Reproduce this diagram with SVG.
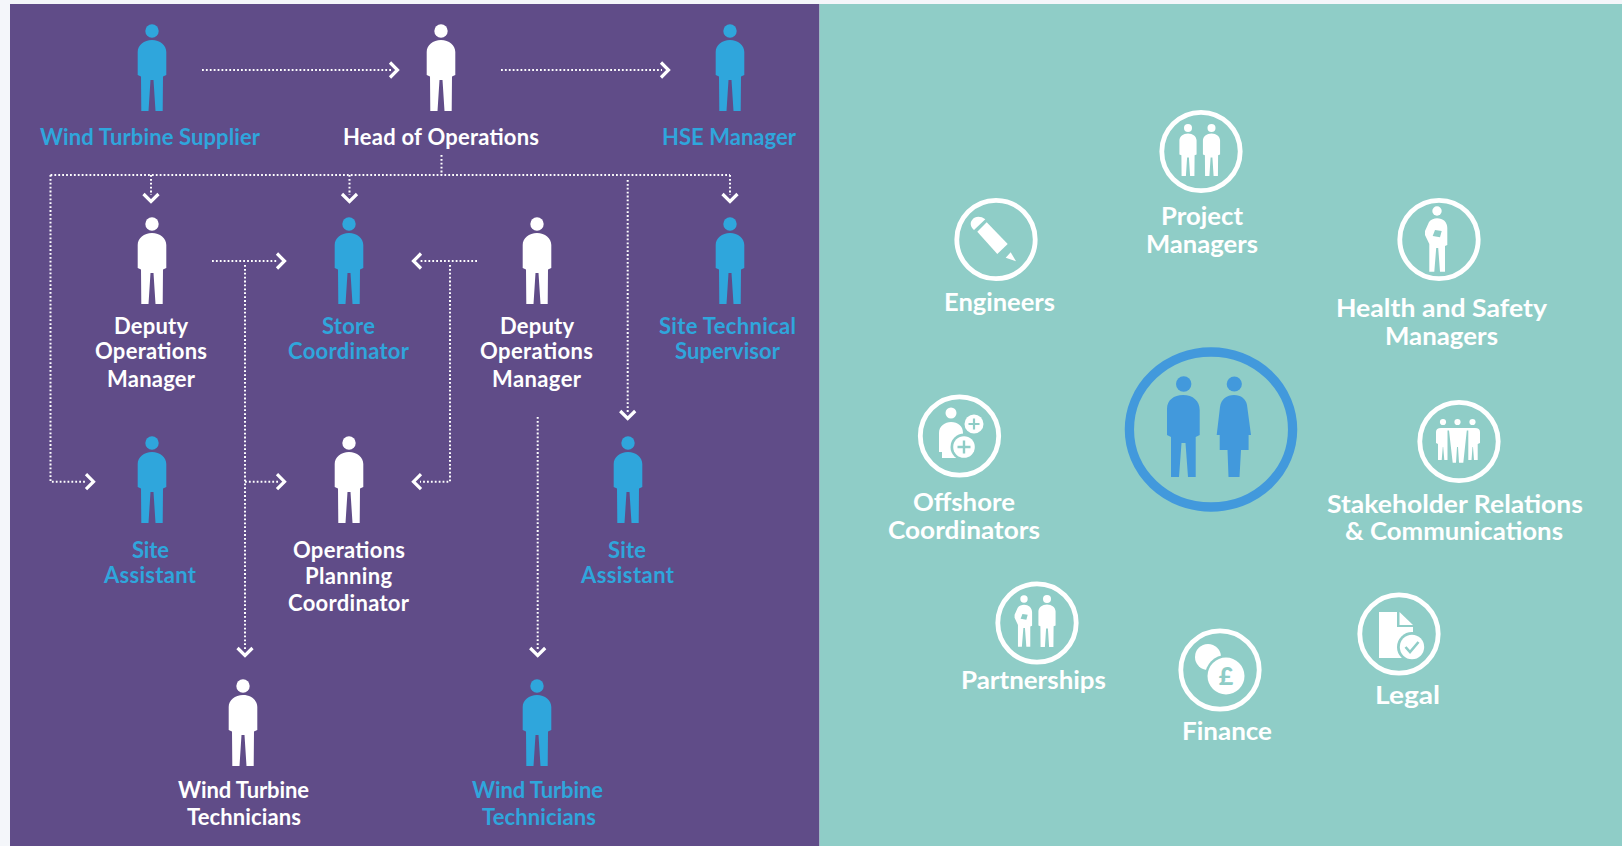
<svg xmlns="http://www.w3.org/2000/svg" width="1622" height="846" viewBox="0 0 1622 846">
<style>
.t{font-family:"Lato","Open Sans","Liberation Sans",sans-serif;font-weight:700;font-size:22px}
.r{font-family:"Lato","Open Sans","Liberation Sans",sans-serif;font-weight:700;font-size:24px;fill:#fff}
.w{fill:#fff}.b{fill:#2fa6dc}
.ring{fill:none;stroke:#fff;stroke-width:4.8}
.tl{fill:#8fcdc7}
#links path{fill:none;stroke:#fff;stroke-width:2;stroke-dasharray:1.8 2.1;marker-end:url(#chev)}
#links path.n{marker-end:none}
</style>
<defs>
<marker id="chev" markerUnits="userSpaceOnUse" markerWidth="16" markerHeight="22" refX="4" refY="10" orient="auto" viewBox="0 0 16 22">
<path d="M3,2.5 L10.5,10 L3,17.5" fill="none" stroke="#fff" stroke-width="3.2"/>
</marker>
<g id="person"><circle cx="0" cy="0" r="6.7"/><path d="M-14.3,44 V21 C-14.3,14 -8,9 0,9 C8,9 14.3,14 14.3,21 V44 L11,45.5 L10.7,80 H3.5 L1.5,49 H-1.5 L-3.5,80 H-10.7 L-11,45.5 Z"/></g>
<g id="clipperson"><circle cx="0" cy="0" r="4.7" fill="#fff"/><path fill="#fff" d="M0,7.3 C6,7.3 10.3,11 10.3,17 V34 L8,35 L8,60.7 H3 L1.2,37 H-0.8 L-2.7,60.7 H-7.7 L-7.7,33 L-12,24 V20 L-8,11 C-6,8.5 -3,7.3 0,7.3 Z"/><path fill="#8fcdc7" d="M-2,19 L4.7,20 L3,26.3 L-4.3,25 Z"/></g>
</defs>
<rect width="1622" height="846" fill="#f4f6fa"/>
<rect x="10" y="4" width="809.500" height="842" fill="#604c88"/>
<rect x="819.500" y="4" width="802.500" height="842" fill="#8fcdc7"/>

<g id="links">
<path d="M202,70 H391"/>
<path d="M501,70 H662"/>
<path class="n" d="M441.5,155 V175"/>
<path d="M50.5,175 V481.7 H87"/>
<path class="n" d="M50.5,175 H730"/>
<path d="M151,175 V195"/>
<path d="M349.500,175 V195"/>
<path d="M730,175 V195"/>
<path d="M627.7,180 V412"/>
<path d="M212,261 H278"/>
<path d="M477,261 H420"/>
<path d="M245,265 V649"/>
<path d="M245,481.7 H278"/>
<path d="M450,265 V481.7 H420"/>
<path d="M537.7,417 V649"/>
</g>

<g id="n-wind-supplier"><use href="#person" x="152" y="31" class="b"/><text class="t b" x="40" y="145" textLength="220">Wind Turbine Supplier</text></g>
<g id="n-head-ops"><use href="#person" x="441" y="31" class="w"/><text class="t w" x="343" y="145" textLength="196">Head of Operations</text></g>
<g id="n-hse"><use href="#person" x="730" y="31" class="b"/><text class="t b" x="662" y="145" textLength="134">HSE Manager</text></g>
<g id="n-deputy-1"><use href="#person" x="152" y="224" class="w"/><text class="t w" x="114" y="334" textLength="74">Deputy</text><text class="t w" x="95" y="359" textLength="112">Operations</text><text class="t w" x="107" y="387" textLength="88">Manager</text></g>
<g id="n-store"><use href="#person" x="349" y="224" class="b"/><text class="t b" x="322" y="334" textLength="53">Store</text><text class="t b" x="288" y="359" textLength="121">Coordinator</text></g>
<g id="n-deputy-2"><use href="#person" x="537" y="224" class="w"/><text class="t w" x="500" y="334" textLength="74">Deputy</text><text class="t w" x="480" y="359" textLength="113">Operations</text><text class="t w" x="492" y="387" textLength="89">Manager</text></g>
<g id="n-site-tech"><use href="#person" x="730" y="224" class="b"/><text class="t b" x="659" y="334" textLength="137">Site Technical</text><text class="t b" x="675" y="359" textLength="105">Supervisor</text></g>
<g id="n-site-1"><use href="#person" x="152" y="443" class="b"/><text class="t b" x="132" y="558" textLength="37">Site</text><text class="t b" x="104" y="583" textLength="92">Assistant</text></g>
<g id="n-planning"><use href="#person" x="349" y="443" class="w"/><text class="t w" x="293" y="558" textLength="112">Operations</text><text class="t w" x="305" y="584" textLength="87">Planning</text><text class="t w" x="288" y="611" textLength="121">Coordinator</text></g>
<g id="n-site-2"><use href="#person" x="628" y="443" class="b"/><text class="t b" x="608" y="558" textLength="38">Site</text><text class="t b" x="581" y="583" textLength="93">Assistant</text></g>
<g id="n-tech-1"><use href="#person" x="243" y="686" class="w"/><text class="t w" x="178" y="798" textLength="131">Wind Turbine</text><text class="t w" x="187" y="825" textLength="114">Technicians</text></g>
<g id="n-tech-2"><use href="#person" x="537" y="686" class="b"/><text class="t b" x="472" y="798" textLength="131">Wind Turbine</text><text class="t b" x="482" y="825" textLength="114">Technicians</text></g>

<g id="n-centre" fill="#4299dc">
<ellipse cx="1211" cy="429.500" rx="81.6" ry="77.5" fill="none" stroke="#4299dc" stroke-width="9.3"/>
<circle cx="1183.7" cy="384" r="7.7"/><circle cx="1234.3" cy="384" r="7.6"/>
<path d="M1167,435 V409 C1167,400 1174,395 1183,395 C1193,395 1199.7,401 1199.7,410 V435 L1195.7,437 V477 H1188 L1185.5,443 H1181.5 L1179,477 H1171 V437 Z"/>
<path d="M1216.7,435 L1220,407 C1221,399 1227,395 1234,395 C1241,395 1246,399 1247,405 L1251,435 H1248.6 V450 H1241 L1239.5,477 H1228.5 L1227.5,450 H1219.7 V435 Z"/>
</g>
<g id="n-project"><circle class="ring" cx="1201" cy="151.500" r="39.2"/><use href="#person" transform="translate(1188,128) scale(.6)" class="w"/><use href="#person" transform="translate(1211.500,128) scale(.6)" class="w"/><text class="r" x="1161" y="225" textLength="82" lengthAdjust="spacingAndGlyphs">Project</text><text class="r" x="1146" y="253" textLength="112" lengthAdjust="spacingAndGlyphs">Managers</text></g>
<g id="n-engineers"><circle class="ring" cx="996" cy="239.500" r="39.2"/><path class="w" d="M974,230 L985.3,219.3 C981,216 975,216 972.5,219.5 C969.5,222.5 970.5,227 974,230 Z"/><path class="w" d="M977.3,231.7 L986.7,222.3 L1007.7,244 L997.3,254 Z"/><path class="w" d="M1005.7,257.7 L1010.7,252.3 L1016,261.3 Z"/><text class="r" x="944" y="311" textLength="111" lengthAdjust="spacingAndGlyphs">Engineers</text></g>
<g id="n-hs"><circle class="ring" cx="1439" cy="239.500" r="39.2"/><use href="#clipperson" x="1437" y="211"/><text class="r" x="1336" y="317" textLength="211" lengthAdjust="spacingAndGlyphs">Health and Safety</text><text class="r" x="1385" y="345" textLength="113" lengthAdjust="spacingAndGlyphs">Managers</text></g>
<g id="n-offshore"><circle class="ring" cx="959.500" cy="436" r="39.2"/><circle class="w" cx="951" cy="413" r="5.5"/><path class="w" d="M939,452 V433 C939,426 945,422 951,422 C958,422 963,426 963,433 V458 H942 V452 Z"/>
<circle class="tl" cx="964" cy="447" r="13.5"/><circle class="w" cx="964" cy="447" r="10.8"/><path class="tl" d="M962.8,440.5 h2.4 v5.3 h5.3 v2.4 h-5.3 v5.3 h-2.4 v-5.3 h-5.3 v-2.4 h5.3 Z"/>
<circle class="w" cx="974" cy="424" r="9.5"/><path class="tl" d="M972.9,418.5 h2.2 v4.4 h4.4 v2.2 h-4.4 v4.4 h-2.2 v-4.4 h-4.4 v-2.2 h4.4 Z"/>
<text class="r" x="913" y="511" textLength="102" lengthAdjust="spacingAndGlyphs">Offshore</text><text class="r" x="888" y="539" textLength="152" lengthAdjust="spacingAndGlyphs">Coordinators</text></g>
<g id="n-stakeholder"><circle class="ring" cx="1459" cy="441.500" r="39.2"/><circle class="w" cx="1443" cy="422" r="3.1"/><circle class="w" cx="1457.500" cy="422" r="3.1"/><circle class="w" cx="1472.500" cy="422" r="3.1"/>
<path class="w" d="M1436,443 V432 Q1436,428 1441,428 H1475 Q1480,428 1480,432 V443 L1477.7,444 V460 H1474 L1473,447 H1472.500 L1471.500,460 H1468.3 V430.5 H1466.8 L1463.3,462.7 H1459 L1458,447 H1457 L1456,462.7 H1452.7 L1449,430.5 H1447.500 V460 H1444.3 L1443.2,447 H1442.8 L1441.7,460 H1438 V444 Z"/>
<text class="r" x="1327" y="513" textLength="256" lengthAdjust="spacingAndGlyphs">Stakeholder Relations</text><text class="r" x="1345" y="540" textLength="218" lengthAdjust="spacingAndGlyphs">&amp; Communications</text></g>
<g id="n-partnerships"><circle class="ring" cx="1037" cy="623" r="39.2"/><use href="#clipperson" transform="translate(1024,599) scale(.785)"/><use href="#person" transform="translate(1047,599) scale(.6)" class="w"/><text class="r" x="961" y="689" textLength="145" lengthAdjust="spacingAndGlyphs">Partnerships</text></g>
<g id="n-finance"><circle class="ring" cx="1220" cy="670" r="39.2"/><circle class="w" cx="1208" cy="657" r="13"/><circle class="tl" cx="1226" cy="676" r="21"/><circle class="w" cx="1226" cy="676" r="18.5"/><text x="1226" y="685" text-anchor="middle" class="tl" style="font-family:'Lato','Liberation Sans',sans-serif;font-weight:900;font-size:25px">£</text><text class="r" x="1182" y="740" textLength="90" lengthAdjust="spacingAndGlyphs">Finance</text></g>
<g id="n-legal"><circle class="ring" cx="1399" cy="634" r="39.2"/><path class="w" d="M1379,612 H1397 V627 H1413 V640 H1402 V658 H1379 Z"/><path class="w" d="M1399.500,612 L1413,625 H1399.500 Z"/><circle class="tl" cx="1412" cy="647" r="15"/><circle class="w" cx="1412" cy="647" r="12.2"/><path d="M1405.500,647 L1410,652 L1418.500,642" fill="none" stroke="#8fcdc7" stroke-width="2.6"/><text class="r" x="1375" y="704" textLength="65" lengthAdjust="spacingAndGlyphs">Legal</text></g>
</svg>
